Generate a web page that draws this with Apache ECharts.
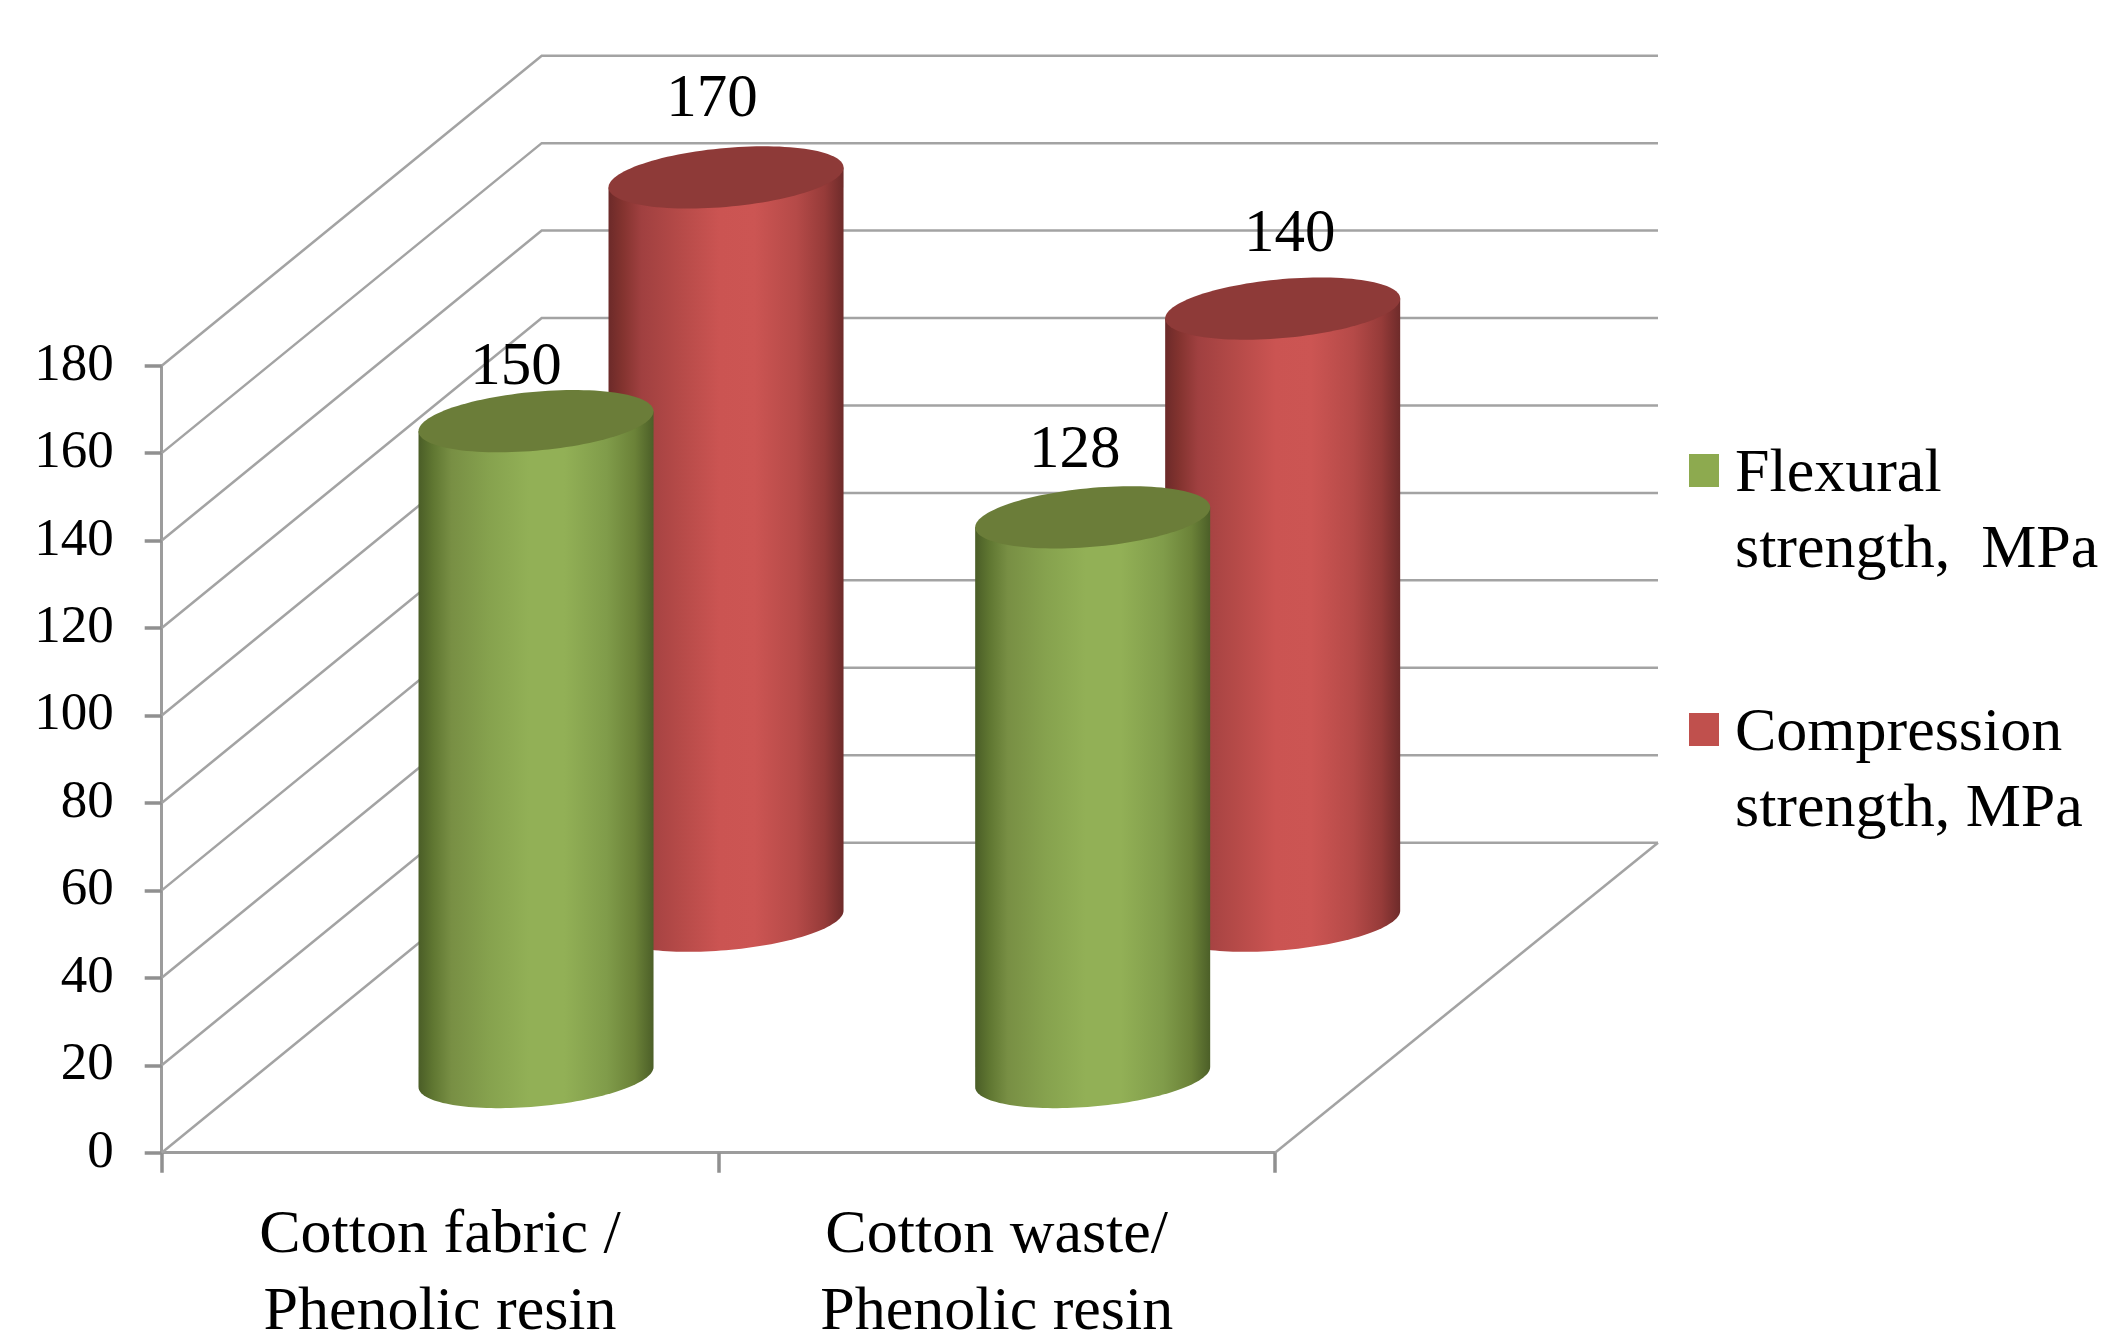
<!DOCTYPE html>
<html>
<head>
<meta charset="utf-8">
<style>html,body{margin:0;padding:0;background:#fff}#c{width:2105px;height:1332px}</style>
<script src="https://cdn.jsdelivr.net/npm/echarts@6/dist/echarts.min.js"></script>
</head>
<body>
<div id="c"></div>
<script>
// ---- data ----
var categories = ['Cotton fabric /\nPhenolic resin', 'Cotton waste/\nPhenolic resin'];
var flexuralValues = [150, 128];
var compressionValues = [170, 140];
var flexuralName = 'Flexural\nstrength,  MPa';
var compressionName = 'Compression\nstrength, MPa';
var valueTicks = [0, 20, 40, 60, 80, 100, 120, 140, 160, 180];

// ---- pseudo-3D styling ----
var FONT = '"Liberation Serif", "Times New Roman", serif';
var GRID_COLOR = '#a3a3a3';
var AXIS_COLOR = '#9c9c9c';
var TICK_COLOR = '#909090';
var WALL_DX = 380, WALL_DY = 310, WALL_DX_RIGHT = 383;
var RADIUS_RATIO = 0.2111, ELLIPSE_B = 29.5, SHEAR = 0.085;

function stops(list) {
  return new echarts.graphic.LinearGradient(0, 0, 1, 0, list.map(function (s) {
    return { offset: s[0], color: s[1] };
  }));
}
var flexuralStyle = {
  depthX: 96, depthY: 75.7, top: '#6b7d39',
  body: [[0, '#4a5d27'], [0.06, '#5f7631'], [0.14, '#788f44'], [0.3, '#86a24e'], [0.47, '#92b056'],
         [0.62, '#92b056'], [0.8, '#809c4a'], [0.92, '#6b8238'], [1, '#4c5f28']],
  labelOffsets: [[-20, -53], [-18, -66]]
};
var compressionStyle = {
  depthX: 286, depthY: 232, top: '#8e3a38',
  body: [[0, '#6c2a29'], [0.06, '#83332f'], [0.14, '#a04040'], [0.3, '#b54a48'], [0.47, '#cb5452'],
         [0.62, '#cc5553'], [0.8, '#b54a48'], [0.92, '#963b39'], [1, '#6e2b2a']],
  labelOffsets: [[-14, -77], [7, -74]]
};

function cylinder(style) {
  return function (params, api) {
    var idx = params.dataIndex;
    var value = api.value(1);
    var base = api.coord([api.value(0), 0]);
    var topPt = api.coord([api.value(0), value]);
    var a = api.size([1, 0])[0] * RADIUS_RATIO;
    var cx = base[0] + style.depthX;
    var botY = base[1] - style.depthY;
    var topY = topPt[1] - style.depthY;
    function ring(cy, from, to, n) {
      var pts = [];
      for (var i = 0; i <= n; i++) {
        var t = from + (to - from) * i / n;
        pts.push([cx + a * Math.cos(t), cy + ELLIPSE_B * Math.sin(t) - SHEAR * a * Math.cos(t)]);
      }
      return pts;
    }
    var bodyPts = [[cx - a, topY + SHEAR * a]].concat(ring(botY, Math.PI, 0, 72));
    bodyPts.push([cx + a, topY - SHEAR * a]);
    var off = style.labelOffsets[idx];
    return {
      type: 'group',
      children: [
        { type: 'polygon', shape: { points: bodyPts }, style: { fill: stops(style.body) } },
        { type: 'polygon', shape: { points: ring(topY, 0, Math.PI * 2, 120) }, style: { fill: style.top } },
        { type: 'text', z2: 10,
          style: { x: cx + off[0], y: topY + off[1], text: String(value), font: '61px ' + FONT,
                   fill: '#000', align: 'center', verticalAlign: 'middle' } }
      ]
    };
  };
}

function wallLines(params, api) {
  var p = api.coord([0, api.value(1)]);
  var cs = params.coordSys;
  var x0 = cs.x, x1 = cs.x + cs.width, y = p[1];
  var children = [{
    type: 'polyline',
    shape: { points: [[x0, y], [x0 + WALL_DX, y - WALL_DY], [x1 + WALL_DX_RIGHT, y - WALL_DY]] },
    style: { fill: null, stroke: GRID_COLOR, lineWidth: 2.5 }
  }];
  if (api.value(1) === 0) {
    children.push({
      type: 'line',
      shape: { x1: x1, y1: y, x2: x1 + WALL_DX_RIGHT, y2: y - WALL_DY },
      style: { stroke: GRID_COLOR, lineWidth: 2.5 }
    });
  }
  return { type: 'group', children: children };
}

var legendText = {
  fontFamily: FONT, fontSize: 62, lineHeight: 76, color: '#000', padding: [0, 0, 0, 11],
  rich: {
    s: { fontFamily: FONT, fontSize: 20, lineHeight: 84 },
    t: { fontFamily: FONT, fontSize: 62, lineHeight: 76, color: '#000' }
  }
};
function legendLabel(n) {
  return '{s| }\n' + n.split('\n').map(function (l) { return '{t|' + l + '}'; }).join('\n');
}

var chart = echarts.init(document.getElementById('c'), null, { renderer: 'canvas', width: 2105, height: 1332 });
chart.setOption({
  animation: false,
  backgroundColor: '#fff',
  grid: { left: 161.7, top: 365.7, width: 1113.3, height: 787, outerBoundsMode: 'none' },
  xAxis: {
    type: 'category',
    data: categories,
    boundaryGap: true,
    axisLine: { lineStyle: { color: AXIS_COLOR, width: 3 } },
    axisTick: { show: true, length: 20, alignWithLabel: false, lineStyle: { color: TICK_COLOR, width: 3.5 } },
    axisLabel: { fontFamily: FONT, fontSize: 62, lineHeight: 77, color: '#000', margin: 45, interval: 0 }
  },
  yAxis: {
    type: 'value',
    min: 0, max: 180, interval: 20,
    axisLine: { show: true, lineStyle: { color: AXIS_COLOR, width: 3 } },
    axisTick: { show: true, length: 17, lineStyle: { color: TICK_COLOR, width: 3.5 } },
    splitLine: { show: false },
    axisLabel: { fontFamily: FONT, fontSize: 53, color: '#000', margin: 48, padding: [4, 0, 0, 0] }
  },
  legend: [
    { orient: 'vertical', left: 1689, top: 352.5, itemWidth: 30, itemHeight: 33, itemGap: 14, icon: 'rect',
      padding: 0, selectedMode: false, data: [flexuralName], formatter: legendLabel, textStyle: legendText },
    { orient: 'vertical', left: 1689, top: 611.5, itemWidth: 30, itemHeight: 33, itemGap: 14, icon: 'rect',
      padding: 0, selectedMode: false, data: [compressionName], formatter: legendLabel, textStyle: legendText }
  ],
  series: [
    { type: 'custom', name: 'walls', z: 1, silent: true, clip: false,
      data: valueTicks.map(function (v) { return [0, v]; }),
      encode: { x: 0, y: 1 }, renderItem: wallLines },
    { type: 'custom', name: compressionName, z: 2, silent: true, clip: false,
      itemStyle: { color: '#c0504d' },
      data: compressionValues.map(function (v, i) { return [i, v]; }),
      encode: { x: 0, y: 1 }, renderItem: cylinder(compressionStyle) },
    { type: 'custom', name: flexuralName, z: 3, silent: true, clip: false,
      itemStyle: { color: '#8daa4f' },
      data: flexuralValues.map(function (v, i) { return [i, v]; }),
      encode: { x: 0, y: 1 }, renderItem: cylinder(flexuralStyle) }
  ]
});
</script>
</body>
</html>
